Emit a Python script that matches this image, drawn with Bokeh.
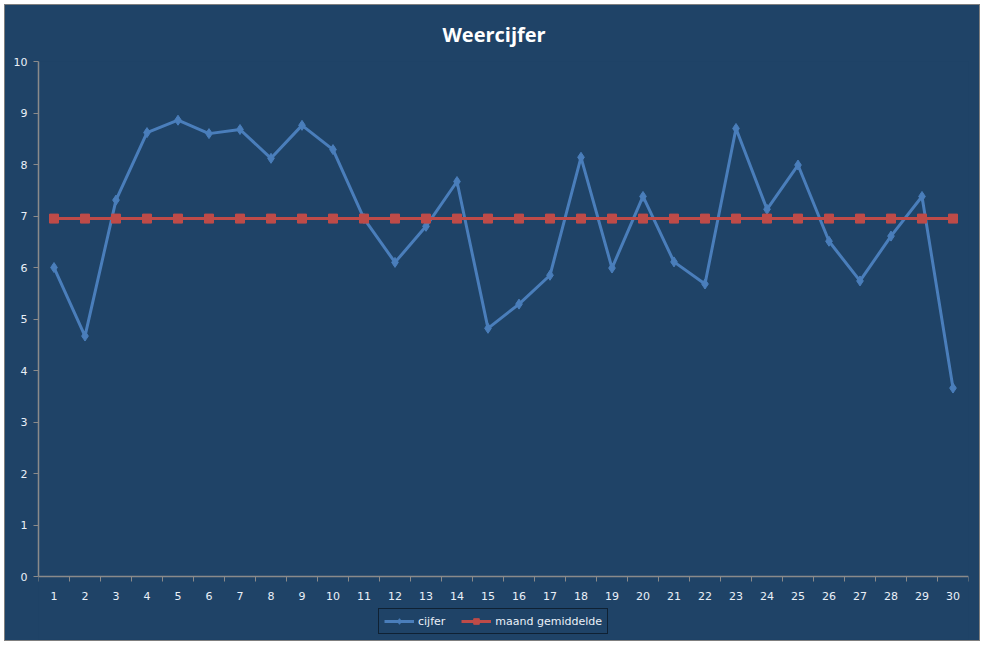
from bokeh.plotting import figure
from bokeh.models import FixedTicker, Legend, LegendItem, ColumnDataSource
from bokeh.embed import file_html
from bokeh.resources import INLINE

days = list(range(1, 31))
cijfer = [6.00, 4.67, 7.31, 8.62, 8.86, 8.60, 8.68, 8.12, 8.76, 8.29,
          6.95, 6.10, 6.80, 7.67, 4.82, 5.29, 5.85, 8.14, 5.99, 7.38,
          6.11, 5.68, 8.70, 7.13, 7.99, 6.51, 5.74, 6.61, 7.38, 3.66]
gemiddelde = [6.95] * 30
y_ticks = list(range(0, 11))

BG = "#1F4367"
TXT = "#EAF0F8"
AX = "#8A8A8A"

src = ColumnDataSource(dict(x=days, c=cijfer, g=gemiddelde))

# frame extends below the value axis so the legend can sit inside it
p = figure(width=976, height=637, output_backend="svg", toolbar_location=None,
           x_range=(0.5, 30.5), y_range=(-1.221, 10),
           min_border_left=33, min_border_right=13, min_border_top=55, min_border_bottom=3,
           background_fill_color=BG, border_fill_color=BG)
p.outline_line_color = None
p.grid.visible = False
p.styles = {"border": "1px solid #7F7F7F", "margin-left": "4px", "margin-top": "4px",
            "background-color": BG}

p.title.text = "Weercijfer"
p.title.align = "left"
p.title.offset = 404
p.title.text_color = "#FFFFFF"
p.title.text_font = "Open Sans"
p.title.text_font_style = "bold"
p.title.text_font_size = "20px"
p.title.standoff = 27

# x axis, drawn at y = 0
p.xaxis.fixed_location = 0
p.xaxis.ticker = FixedTicker(ticks=days, minor_ticks=[d + 0.5 for d in range(0, 31)])
p.xaxis.major_tick_out = 0
p.xaxis.major_tick_in = 0
p.xaxis.minor_tick_out = 5
p.xaxis.minor_tick_in = 0
p.xaxis.minor_tick_line_color = AX
p.xaxis.axis_line_color = AX
p.xaxis.axis_line_width = 1.5
p.xaxis.major_label_standoff = 10
# y axis
p.yaxis.bounds = (0, 10)
p.yaxis.ticker = FixedTicker(ticks=y_ticks, minor_ticks=[])
p.yaxis.major_tick_out = 5
p.yaxis.major_tick_in = 0
p.yaxis.major_tick_line_color = AX
p.yaxis.axis_line_color = AX
p.yaxis.axis_line_width = 1.5
p.yaxis.major_label_standoff = 6
for ax in (p.xaxis, p.yaxis):
    ax.major_label_text_color = TXT
    ax.major_label_text_font = "DejaVu Sans"
    ax.major_label_text_font_size = "11px"

l1 = p.line("x", "c", source=src, line_color="#4A7EBB", line_width=3)
s1 = p.scatter("x", "c", source=src, marker="diamond", size=10, fill_color="#4A7EBB", line_color="#4A7EBB")
l2 = p.line("x", "g", source=src, line_color="#BE4B48", line_width=3)
s2 = p.scatter("x", "g", source=src, marker="square", size=9, fill_color="#BE4B48", line_color="#BE4B48")

legend = Legend(items=[LegendItem(label="cijfer", renderers=[l1, s1]),
                       LegendItem(label="maand gemiddelde", renderers=[l2, s2])],
                orientation="horizontal", location=(340, 5),
                background_fill_color=BG, background_fill_alpha=1.0,
                border_line_color="#000000", border_line_width=1,
                label_text_color=TXT, label_text_font="DejaVu Sans", label_text_font_size="11px",
                glyph_width=30, glyph_height=14, label_height=14, label_standoff=4, spacing=16,
                padding=5, margin=0)
p.add_layout(legend, "center")

open("out.html", "w").write(file_html(p, INLINE))
